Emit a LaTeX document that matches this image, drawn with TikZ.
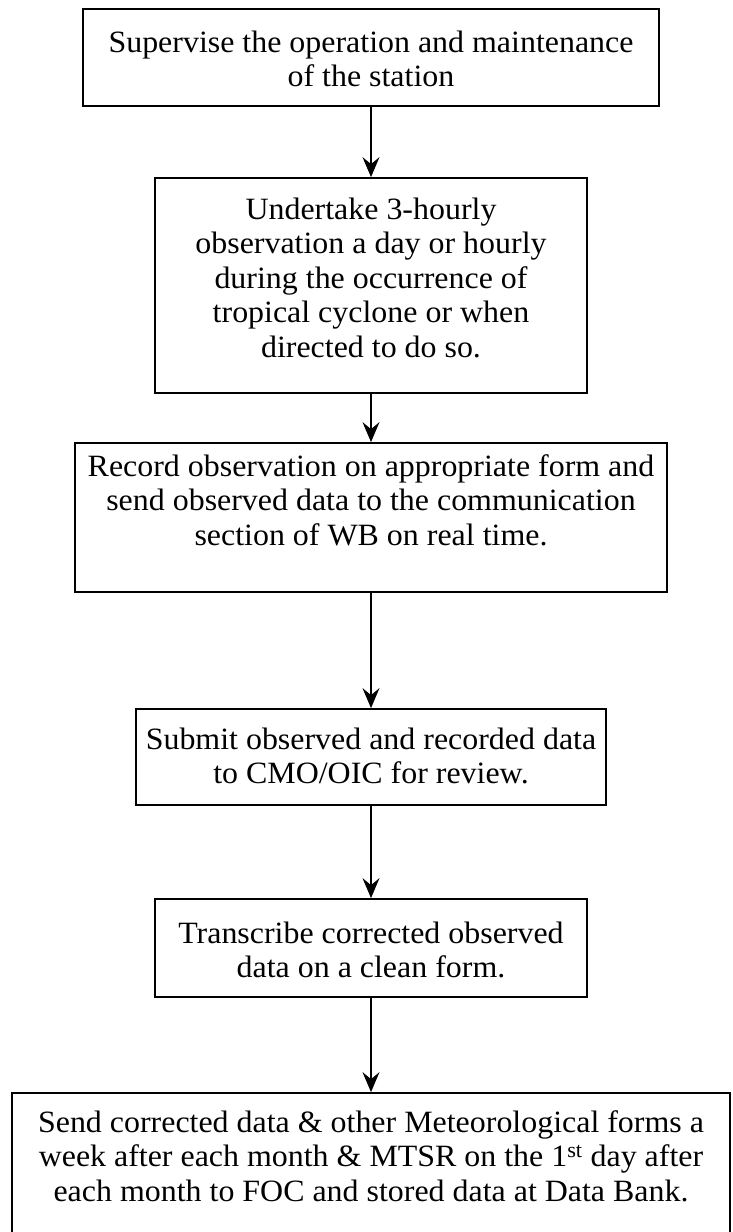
\documentclass[tikz,border=0pt]{standalone}
\usepackage{fontspec}
\setmainfont{Liberation Serif}[FakeStretch=1.03]
\usetikzlibrary{arrows.meta}
\begin{document}
\begin{tikzpicture}[x=1pt,y=1pt,
  box/.style={draw=black,line width=1.8pt,inner sep=0pt},
  txt/.style={align=center,inner sep=0pt,anchor=north,
    font=\fontsize{31}{34.5}\selectfont},
  conn/.style={line width=1.3pt,-{Stealth[length=20pt,width=17pt,inset=7pt]}}]
\useasboundingbox (0,0) rectangle (732,-1232);
\clip (0,0) rectangle (732,-1232);
% boxes
\node[box,minimum width=576,minimum height=97] (b1) at (371,-57.5) {};
\node[box,minimum width=432,minimum height=215] (b2) at (371,-285.5) {};
\node[box,minimum width=592,minimum height=149] (b3) at (371,-517.5) {};
\node[box,minimum width=470,minimum height=96] (b4) at (371,-757) {};
\node[box,minimum width=432,minimum height=98] (b5) at (371,-948) {};
\node[box,minimum width=718,minimum height=150] (b6) at (371,-1168) {};
% texts (strut height = 0.7*34.5 = 24.15)
\node[txt] (t1) at (371,-27.85)
  {\strut Supervise the operation and maintenance\\of the station};
\node[txt] (t2) at (371,-194.85)
  {\strut Undertake 3-hourly\\observation a day or hourly\\during the occurrence of\\tropical cyclone or when\\directed to do so.};
\node[txt] (t3) at (371,-451.85)
  {\strut Record observation on appropriate form and\\send observed data to the communication\\section of WB on real time.};
\node[txt] (t4) at (371,-724.85)
  {\strut Submit observed and recorded data\\to CMO/OIC for review.};
\node[txt] (t5) at (371,-918.85)
  {\strut Transcribe corrected observed\\data on a clean form.};
\node[txt] (t6) at (371,-1107.85)
  {\strut Send corrected data \& other Meteorological forms a\\week after each month \& MTSR on the 1\textsuperscript{st} day after\\each month to FOC and stored data at Data Bank.};
% connectors
\draw[conn] (b1) -- (b2);
\draw[conn] (b2) -- (b3);
\draw[conn] (b3) -- (b4);
\draw[conn] (b4) -- (b5);
\draw[conn] (b5) -- (b6);
\end{tikzpicture}
\end{document}
